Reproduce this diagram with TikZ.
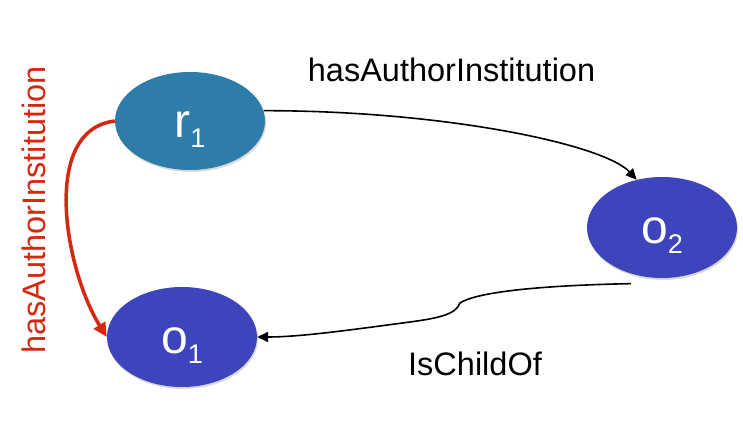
\documentclass[tikz,border=0pt]{standalone}
\usepackage{fontspec}
\setmainfont{Liberation Sans}
\usetikzlibrary{shapes.geometric,arrows.meta,shadows}
\definecolor{rblue}{RGB}{46,124,170}
\definecolor{oblue}{RGB}{61,68,188}
\definecolor{relred}{RGB}{214,40,16}
\tikzset{
  ent/.style={ellipse, inner sep=0pt, minimum width=150pt, minimum height=100pt,
    text=white, font=\fontsize{48}{48}\selectfont, text height=33pt, text depth=0pt,
    drop shadow={shadow xshift=1pt, shadow yshift=-2pt, opacity=0.3}},
  lbl/.style={inner sep=0pt, font=\fontsize{32.5}{34}\selectfont},
  rel/.style={line width=1.6pt, -{Triangle[length=11pt,width=10pt]}},
  redrel/.style={line width=3.5pt, draw=relred, -{Triangle[length=14pt,width=13pt]}}
}
\newcommand{\subsc}[1]{\raisebox{-10pt}{\fontsize{27}{27}\selectfont #1}}
\begin{document}
\begin{tikzpicture}[x=1pt,y=1pt]
\useasboundingbox (0,0) rectangle (743,420);
\node[ent, fill=rblue, minimum height=98pt] (r1) at (190,299) {r\subsc{1}};
\node[ent, fill=oblue] (o1) at (182,83) {o\subsc{1}};
\node[ent, fill=oblue, minimum height=101pt] (o2) at (662,192.5) {o\subsc{2}};
\node[lbl, anchor=base] (l1) at (451.5,338) {hasAuthorInstitution};
\node[lbl, anchor=base] (l2) at (475,45) {IsChildOf};
\node[lbl, text=relred, rotate=90, anchor=base] (l3) at (45,210) {hasAuthorInstitution};
\draw[rel] (r1.8) .. controls +(183,0) and +(-32,35) .. (o2.118);
\draw[rel] ([yshift=-10pt]o2.236) .. controls (560,135) and (480,130) .. (460,117)
  .. controls (456,106) and (440,102) .. (410,98)
  .. controls (350,90) and (300,83) .. (o1.east);
\draw[redrel] (r1.west) .. controls (40,290) and (65,150) .. (o1.west);
\end{tikzpicture}
\end{document}
